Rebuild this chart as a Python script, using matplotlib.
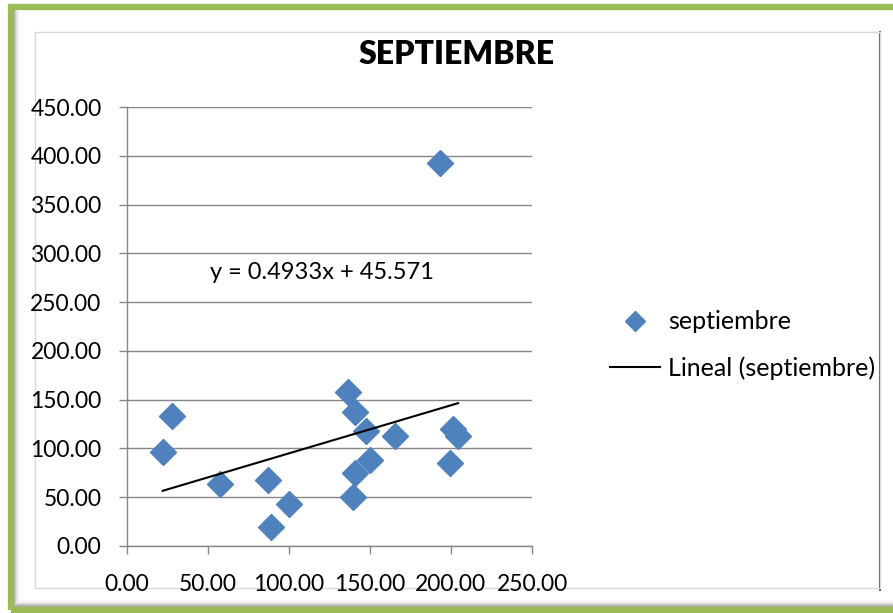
import matplotlib
matplotlib.use("Agg")
import matplotlib.pyplot as plt
from matplotlib.patches import Rectangle
from matplotlib.lines import Line2D
import numpy as np

# Data
x_vals = [22.3, 27.9, 57.9, 87.1, 89.2, 100.1, 136.5, 140.9, 139.6, 141.0,
          147.8, 149.9, 165.5, 193.5, 199.3, 201.5, 204.4]
y_vals = [96.5, 132.8, 63.7, 67.4, 19.2, 43.4, 157.4, 136.9, 50.3, 75.3,
          117.7, 88.3, 112.6, 392.2, 85.2, 120.4, 112.6]
slope = 0.4933
intercept = 45.571
x_ticks = [0, 50, 100, 150, 200, 250]
y_ticks = [0, 50, 100, 150, 200, 250, 300, 350, 400, 450]
title = "SEPTIEMBRE"
series_name = "septiembre"
trend_name = "Lineal (septiembre)"

W, H = 893, 613
plt.rcParams['font.family'] = ['Lato', 'DejaVu Sans']
fig = plt.figure(figsize=(W / 100, H / 100), dpi=100)
fig.patch.set_facecolor('white')

def fx(px):
    return px / W

def fy(py):
    return 1 - py / H

# shadow gradient on left and bottom inside green frame
for i, c in enumerate(['#9a9a9a', '#b5b5b5', '#cdcdcd', '#e0e0e0', '#eeeeee', '#f7f7f7']):
    fig.lines.append(Line2D([fx(14 + i), fx(14 + i)], [fy(10), fy(606 - i)],
                            transform=fig.transFigure, color=c, lw=1.2, zorder=-5))
    fig.lines.append(Line2D([fx(14 + i), fx(893)], [fy(606 - i), fy(606 - i)],
                            transform=fig.transFigure, color=c, lw=1.2, zorder=-5))
fig.patches.append(Rectangle((fx(10.5), fy(609.5)), fx(893 - 10.5) + 0.01, fy(6.5) - fy(609.5),
                             transform=fig.transFigure, facecolor='none',
                             edgecolor='#9BBB59', lw=4.5, zorder=-4))
# inner chart area border
fig.patches.append(Rectangle((fx(35), fy(588)), fx(880 - 35), fy(32) - fy(588),
                             transform=fig.transFigure, facecolor='none',
                             edgecolor='#d9d9d9', lw=1.0, zorder=-4))
fig.lines.append(Line2D([fx(880), fx(880)], [fy(590), fy(32)],
                        transform=fig.transFigure, color='#404040', lw=1.3, zorder=-4))

# Axes
left, right = fx(126.5), fx(532)
bottom, top = fy(546), fy(107)
ax = fig.add_axes([left, bottom, right - left, top - bottom])
ax.set_zorder(1)
ax.set_facecolor('none')
ax.set_xlim(0, 250)
ax.set_ylim(0, 450)
ax.set_xticks(x_ticks)
ax.set_yticks(y_ticks)
ax.set_xticklabels([f"{v:.2f}" for v in x_ticks])
ax.set_yticklabels([f"{v:.2f}" for v in y_ticks])
for s in ['top', 'right']:
    ax.spines[s].set_visible(False)
for s in ['left', 'bottom']:
    ax.spines[s].set_color('#868686')
    ax.spines[s].set_linewidth(1.0)
ax.tick_params(axis='both', direction='out', length=6, width=1.0, color='#868686',
               labelsize=16.5, labelcolor='black')
ax.tick_params(axis='x', pad=14)
ax.tick_params(axis='y', pad=12)
ax.yaxis.grid(True, color='#868686', lw=1.0)
ax.set_axisbelow(True)

ax.plot(x_vals, y_vals, linestyle='none', marker='D', markersize=13.5,
        color='#4F81BD', markeredgecolor='#4F81BD', label=series_name, zorder=3)
xl = np.array([min(x_vals), max(x_vals)])
ax.plot(xl, slope * xl + intercept, color='black', lw=1.5, label=trend_name, zorder=4)

ax.text(120.7, 280, f"y = {slope}x + {intercept}", fontsize=17, ha='center', va='center')

fig.text(fx(457), fy(54), title, fontsize=23, fontweight='heavy', ha='center', va='center')

leg = ax.legend(loc='center left', bbox_to_anchor=(fx(610), fy(345)),
                bbox_transform=fig.transFigure, frameon=False, fontsize=18,
                handlelength=2.0, handletextpad=0.32, labelspacing=0.9,
                borderaxespad=0, borderpad=0, markerscale=0.75)

fig.savefig("out.png", dpi=100)
